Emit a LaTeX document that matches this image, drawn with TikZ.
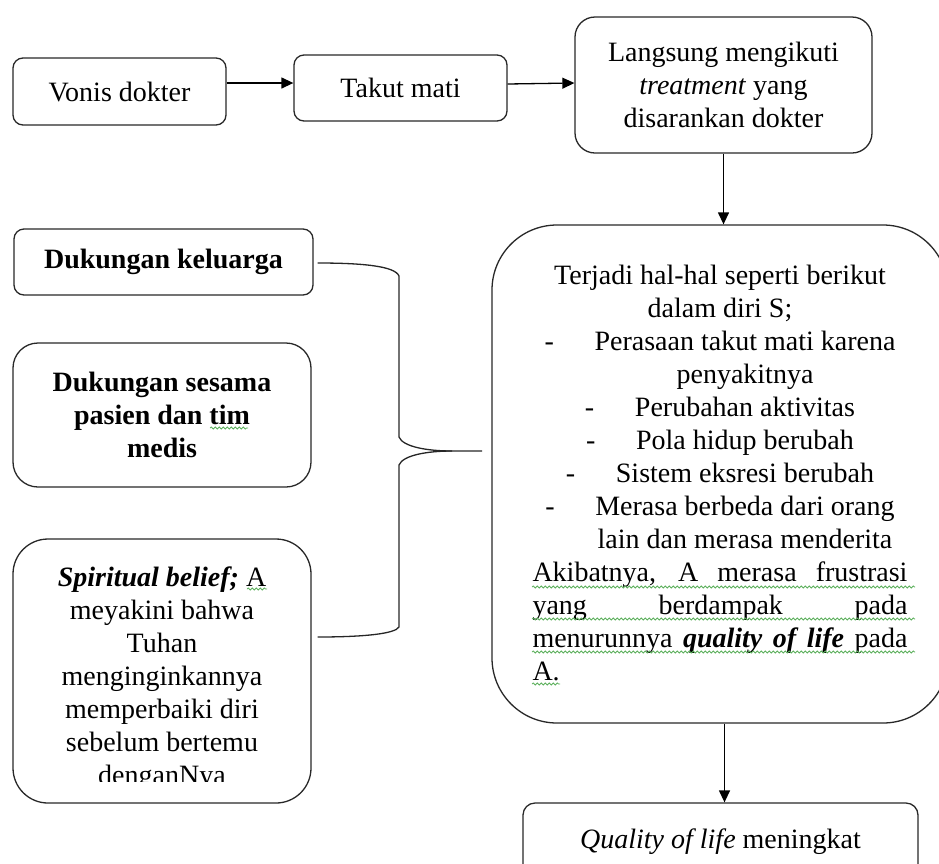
\documentclass[tikz,border=0pt]{standalone}
\usepackage{fontspec}
\setmainfont{Liberation Serif}
\usetikzlibrary{arrows.meta,decorations.pathmorphing}

\definecolor{edge}{RGB}{40,40,40}
\definecolor{spellgreen}{RGB}{92,176,92}

\newcommand{\bodyfont}{\fontsize{28pt}{33pt}\selectfont}

\tikzset{
  flowbox/.style={draw=edge, line width=1.3pt, fill=white, align=center,
    font=\bodyfont, inner sep=0pt},
  flowarrow/.style={draw=black, line width=1.3pt,
    -{Triangle[length=12pt,width=11pt]}},
  bracket/.style={draw=black!85, line width=1.3pt},
  squiggle/.style={draw=spellgreen, line width=0.8pt, decorate,
    decoration={snake, amplitude=1pt, segment length=4pt}},
  textblock/.style={anchor=base, inner sep=0pt, font=\bodyfont}
}

\begin{document}
\begin{tikzpicture}[x=1pt, y=-1pt]
  \useasboundingbox (0,0) rectangle (939,863);

  % top row
  \node[flowbox, minimum width=213pt, minimum height=67pt, rounded corners=10pt]
    (vonis) at (119.5,91.5) {Vonis dokter};
  \node[flowbox, minimum width=213pt, minimum height=66pt, rounded corners=10pt]
    (takut) at (400.5,88) {Takut mati};
  \node[flowbox, minimum width=297pt, minimum height=136pt, rounded corners=20pt]
    (langsung) at (723.5,85)
    {Langsung mengikuti\\\textit{treatment} yang\\disarankan dokter};

  % large outcome box (its right side runs past the page edge)
  \node[flowbox, minimum width=456pt, minimum height=498pt, rounded corners=65pt]
    (big) at (720,474) {};
  \node[textblock] (bigtext) at (720,284) {\begin{minipage}[t]{400pt}\bodyfont\centering
    Terjadi hal-hal seperti berikut\\
    dalam diri S;\\
    \makebox[50pt][l]{-}Perasaan takut mati karena\\
    \makebox[50pt]{}penyakitnya\\
    \makebox[50pt][l]{-}Perubahan aktivitas\\
    \makebox[50pt][l]{-}Pola hidup berubah\\
    \makebox[50pt][l]{-}Sistem eksresi berubah\\
    \makebox[50pt][l]{-}Merasa berbeda dari orang\\
    \makebox[50pt]{}lain dan merasa menderita\\
    \makebox[375pt][s]{Akibatnya, A merasa frustrasi}\\
    \makebox[375pt][s]{yang berdampak pada}\\
    \makebox[375pt][s]{menurunnya \textbf{\textit{quality of life}} pada}\\
    \makebox[375pt][l]{A.}
  \end{minipage}};

  % left column
  \node[flowbox, minimum width=299pt, minimum height=66pt, rounded corners=10pt,
    font=\bodyfont\bfseries] (keluarga) at (163.5,262) {Dukungan keluarga};
  \node[flowbox, minimum width=298pt, minimum height=144pt, rounded corners=25pt,
    font=\bodyfont\bfseries] (sesama) at (162,415)
    {Dukungan sesama\\pasien dan tim\\medis};
  \node[flowbox, minimum width=298pt, minimum height=264pt, rounded corners=35pt]
    (spiritual) at (162,671) {};
  \begin{scope}
    \clip (13,539) rectangle (311,781);
    \node[textblock] (spiritext) at (162,586) {\begin{minipage}[t]{290pt}\bodyfont\centering
      \textbf{\textit{Spiritual belief;}} A\\
      meyakini bahwa\\
      Tuhan\\
      menginginkannya\\
      memperbaiki diri\\
      sebelum bertemu\\
      denganNya
    \end{minipage}};
  \end{scope}

  % bottom result
  \node[flowbox, minimum width=395pt, minimum height=77pt, rounded corners=12pt]
    (quality) at (720.5,841.5) {\textit{Quality of life} meningkat};

  % arrows
  \draw[flowarrow] ([yshift=8.5pt]vonis.east) -- ([yshift=5pt]takut.west);
  \draw[flowarrow] ([yshift=4pt]takut.east) -- ([yshift=2pt]langsung.west);
  \draw[flowarrow] (langsung.south) -- (langsung.south |- big.north);
  \draw[flowarrow] ([xshift=4pt]big.south -| quality.north) -- ([xshift=4pt]quality.north);

  % brace gathering the three supports
  \coordinate (bracetip) at (452,451);
  \coordinate (braceend) at (482,451);
  \draw[bracket] ([xshift=4pt,yshift=-1pt]keluarga.east)
    .. controls (362,263) and (395,266) .. (399,276)
    -- (399,437)
    .. controls (403,447) and (428,451) .. (bracetip)
    -- (braceend);
  \draw[bracket] (bracetip)
    .. controls (428,451) and (403,455) .. (399,465)
    -- (399,627)
    .. controls (395,634) and (362,637) .. ([xshift=6pt,yshift=34pt]spiritual.east);

  % spell-check marks
  \draw[squiggle] (532,587) -- (915,587);
  \draw[squiggle] (532,619) -- (915,619);
  \draw[squiggle] (532,652) -- (915,652);
  \draw[squiggle] (532,684) -- (560,684);
  \draw[squiggle] (210,428) -- (248,428);
  \draw[squiggle] (247,589) -- (267,589);
\end{tikzpicture}
\end{document}
